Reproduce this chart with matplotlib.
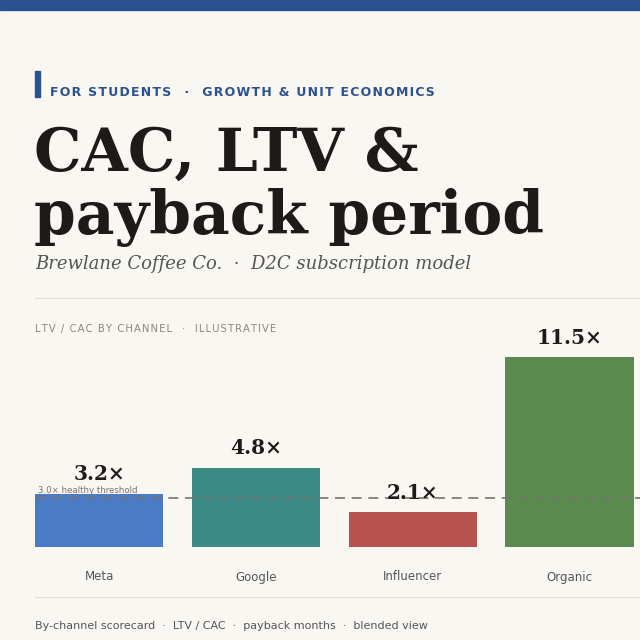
#!/usr/bin/env python3
"""LTV / CAC by acquisition channel, editorial card style."""

import matplotlib.pyplot as plt
from matplotlib.patches import Rectangle

channels = ["Meta", "Google", "Influencer", "Organic"]
ltv_cac = [3.2, 4.8, 2.1, 11.5]
threshold = 3.0
bar_colors = ["#4a7bc4", "#3b8a88", "#b85450", "#5b8a4e"]

BG = "#f9f7f2"
BLUE = "#2a5190"
INK = "#1c1b17"
GREY = "#555555"
W = H = 640


def fx(px):
    return px / W


def fy(px):
    return 1 - px / H


def spaced(s, gap="\u200a"):
    return gap.join(s)


fig = plt.figure(figsize=(6.4, 6.4), dpi=100, facecolor=BG)

# top band + accent bar
fig.patches.append(Rectangle((0, fy(10)), 1, fx(10), transform=fig.transFigure,
                             color=BLUE, zorder=0))
fig.patches.append(Rectangle((fx(35), fy(97)), fx(5), 26 / H, transform=fig.transFigure,
                             color=BLUE, zorder=0))

fig.text(fx(50), fy(92), spaced("FOR STUDENTS") + "   ·   " + spaced("GROWTH & UNIT ECONOMICS"),
         color=BLUE, fontsize=9, fontweight="bold", va="center", ha="left")

fig.text(fx(34), fy(171), "CAC, LTV &", family="DejaVu Serif", fontweight="bold",
         fontsize=43, color=INK, va="baseline")
fig.text(fx(34), fy(234), "payback period", family="DejaVu Serif", fontweight="bold",
         fontsize=43, color=INK, va="baseline")
fig.text(fx(35), fy(264), "Brewlane Coffee Co.  ·  D2C subscription model",
         family="DejaVu Serif", style="italic", fontsize=13, color=GREY, va="center")

for y in (298, 597):
    fig.add_artist(plt.Line2D([fx(35), 1], [fy(y), fy(y)], color="#e2ded6", lw=0.8))

fig.text(fx(35), fy(329), spaced("LTV / CAC BY CHANNEL") + "   ·   " + spaced("ILLUSTRATIVE"),
         color="#8a8780", fontsize=7.3, va="center")

# chart area: baseline at y=547, bars 35..633
ax = fig.add_axes([fx(35), fy(547), fx(640 - 35), (547 - 332.5) / H])
ax.set_facecolor(BG)
x = range(len(channels))
ax.bar(x, ltv_cac, width=0.818, color=bar_colors, zorder=2)
ax.set_xlim(-0.409, 3.45)
ax.set_ylim(0, 13)
ax.axhline(threshold, color="#77736c", lw=1.2, ls=(0, (6, 4)), zorder=3)
ax.axhline(0, color="#e2ded6", lw=0.8, zorder=1)
ax.text(-0.39, threshold + 0.18, "3.0× healthy threshold", fontsize=6.2,
        color="#77736c", va="bottom", ha="left")
for i, v in enumerate(ltv_cac):
    ax.annotate(f"{v:.1f}×", (i, v), xytext=(0, 7), textcoords="offset points",
                ha="center", va="bottom", family="DejaVu Serif", fontweight="bold",
                fontsize=14.5, color=INK, zorder=4)
ax.set_xticks([])
ax.set_yticks([])
for s in ax.spines.values():
    s.set_visible(False)

for i, name in enumerate(channels):
    xd = ax.transData.transform((i, 0))[0]
    fig.text(xd / W, fy(577), name, ha="center", va="center", fontsize=8.5, color=GREY)

fig.text(fx(35), fy(626), "By-channel scorecard  ·  LTV / CAC  ·  payback months  ·  blended view",
         fontsize=8.05, color=GREY, va="center")

fig.savefig("out.png", dpi=100, facecolor=BG)
